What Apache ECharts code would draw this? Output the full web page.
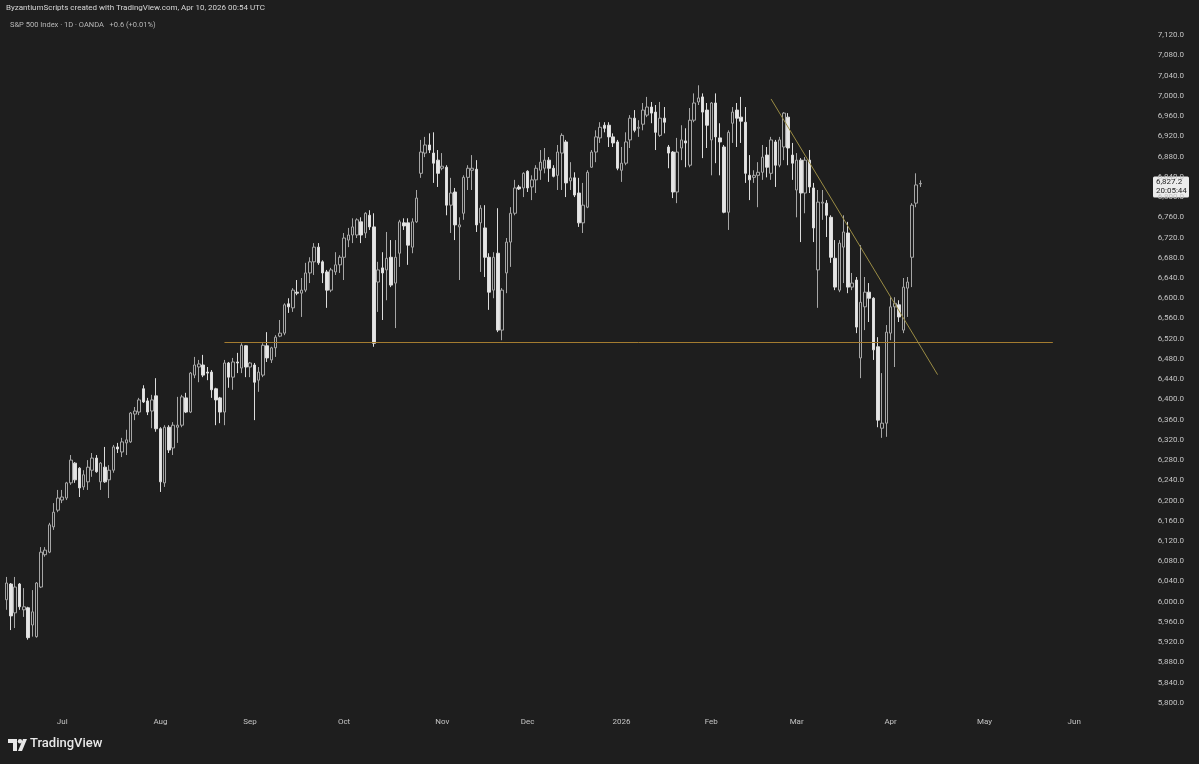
<!DOCTYPE html>
<html><head><meta charset="utf-8">
<script src="https://cdn.jsdelivr.net/npm/echarts@6/dist/echarts.min.js"></script>
<style>html,body{margin:0;padding:0;background:#1e1e1e;overflow:hidden}#c{width:1199px;height:764px}</style>
</head><body><div id="c"></div>
<script>
// ---- data (daily candles, S&P 500 CFD) ----
const opens = [
6004,6035,5978,6035,5984,5988,5954,5931,6029,6093,
6098,6148,6181,6201,6205,6235,6274,6264,6227,6237,
6260,6284,6237,6266,6241,6260,6306,6296,6314,6316,
6371,6375,6421,6397,6377,6407,6342,6235,6345,6304,
6345,6349,6403,6375,6448,6464,6468,6454,6454,6421,
6403,6375,6472,6444,6474,6462,6506,6464,6468,6438,
6448,6506,6478,6502,6525,6531,6589,6581,6612,6610,
6616,6650,6672,6701,6672,6652,6616,6652,6666,6681,
6715,6725,6725,6751,6729,6764,6741,6632,6660,6656,
6681,6630,6689,6749,6749,6701,6751,6847,6887,6903,
6887,6873,6857,6859,6784,6810,6741,6768,6839,6853,
6855,6749,6739,6681,6616,6689,6537,6650,6711,6768,
6820,6818,6851,6820,6834,6853,6857,6873,6857,6843,
6887,6909,6832,6838,6808,6749,6780,6859,6889,6917,
6942,6942,6919,6909,6853,6867,6913,6956,6936,6944,
6962,6978,6968,6922,6956,6899,6889,6810,6897,6911,
6863,6952,6988,6998,6972,6913,6986,6917,6899,6770,
6946,6972,6958,6948,6843,6839,6843,6849,6883,6847,
6909,6863,6899,6958,6883,6814,6873,6808,6873,6818,
6656,6788,6788,6760,6679,6616,6701,6729,6622,6636,
6482,6583,6612,6600,6504,6343,6353,6531,6583,6587,
6537,6620,6681,6788,6826];
const closes = [
6037,5972,6029,5990,5990,5929,5980,6037,6098,6102,
6152,6177,6205,6207,6235,6280,6241,6225,6251,6266,
6284,6257,6274,6237,6260,6306,6302,6316,6320,6373,
6377,6399,6395,6375,6399,6342,6237,6345,6300,6349,
6349,6405,6375,6452,6468,6470,6448,6452,6419,6399,
6375,6472,6444,6474,6472,6507,6464,6472,6434,6454,
6507,6482,6502,6523,6531,6587,6583,6616,6610,6616,
6650,6672,6701,6670,6650,6616,6656,6666,6681,6719,
6725,6741,6755,6725,6768,6741,6511,6656,6650,6679,
6626,6681,6751,6743,6705,6751,6798,6889,6903,6893,
6867,6847,6861,6784,6808,6745,6745,6839,6857,6857,
6745,6778,6681,6612,6681,6537,6616,6711,6768,6818,
6816,6847,6818,6834,6857,6869,6873,6857,6841,6889,
6922,6828,6838,6804,6749,6784,6849,6889,6919,6938,
6936,6919,6907,6857,6867,6909,6956,6932,6938,6972,
6978,6966,6928,6956,6948,6887,6810,6889,6913,6907,
6952,6986,6996,6968,6942,6986,6919,6909,6770,6928,
6968,6956,6950,6847,6834,6843,6849,6879,6859,6913,
6863,6913,6966,6897,6867,6873,6808,6873,6820,6739,
6790,6790,6764,6681,6622,6709,6731,6622,6630,6543,
6592,6612,6600,6498,6359,6353,6533,6583,6590,6563,
6622,6632,6784,6824,6827];
const lows = [
5984,5944,5948,5984,5970,5925,5931,5929,6027,6089,
6096,6142,6177,6195,6201,6231,6235,6207,6221,6221,
6247,6255,6221,6235,6205,6255,6294,6286,6290,6314,
6359,6369,6393,6369,6343,6336,6217,6227,6294,6290,
6314,6345,6373,6373,6442,6434,6444,6438,6403,6349,
6353,6349,6423,6419,6452,6452,6444,6444,6359,6415,
6444,6474,6472,6484,6523,6527,6571,6573,6606,6563,
6612,6630,6646,6666,6630,6581,6612,6646,6650,6636,
6701,6709,6719,6709,6719,6735,6504,6573,6557,6596,
6622,6541,6662,6735,6666,6689,6749,6838,6879,6887,
6828,6820,6853,6764,6729,6715,6636,6755,6814,6814,
6731,6652,6642,6577,6600,6533,6517,6610,6662,6764,
6814,6800,6810,6794,6808,6834,6847,6830,6839,6814,
6814,6800,6814,6800,6741,6729,6778,6858,6869,6907,
6928,6899,6899,6853,6830,6863,6897,6928,6919,6932,
6958,6946,6893,6919,6926,6857,6798,6788,6873,6859,
6859,6948,6982,6877,6897,6843,6867,6843,6768,6735,
6907,6899,6907,6828,6794,6828,6780,6834,6839,6834,
6820,6859,6873,6863,6834,6760,6711,6768,6808,6711,
6581,6755,6721,6670,6616,6612,6630,6610,6616,6531,
6442,6537,6553,6478,6345,6324,6326,6517,6464,6553,
6531,6563,6622,6780,6820];
const highs = [
6049,6037,6049,6037,6027,5990,6023,6039,6108,6108,
6156,6195,6221,6221,6237,6290,6276,6266,6260,6280,
6294,6290,6276,6306,6270,6310,6314,6324,6340,6375,
6385,6403,6428,6403,6409,6442,6345,6349,6349,6355,
6405,6409,6413,6454,6484,6478,6488,6464,6458,6423,
6405,6478,6474,6482,6492,6511,6507,6474,6472,6464,
6511,6533,6504,6527,6557,6590,6600,6620,6636,6640,
6670,6681,6709,6709,6675,6656,6660,6691,6685,6729,
6739,6758,6758,6760,6770,6774,6768,6672,6691,6731,
6715,6715,6755,6758,6758,6758,6814,6913,6919,6926,
6928,6893,6887,6863,6838,6818,6760,6843,6863,6883,
6873,6784,6784,6689,6691,6778,6620,6719,6780,6834,
6824,6849,6853,6843,6863,6893,6897,6879,6863,6903,
6926,6913,6869,6849,6838,6828,6853,6893,6932,6948,
6948,6948,6926,6913,6899,6928,6962,6972,6952,6986,
6998,6988,6982,6988,6978,6903,6891,6917,6942,6936,
6976,7005,7021,7005,6986,6988,7005,6946,6903,6932,
6978,6986,6998,6978,6883,6853,6869,6903,6899,6919,
6913,6919,6968,6966,6907,6887,6877,6879,6893,6828,
6814,6814,6794,6764,6715,6715,6764,6751,6650,6642,
6705,6642,6630,6602,6523,6452,6547,6602,6602,6596,
6640,6642,6788,6847,6833];

// time scale: one slot per trading day, plus empty future slots
const totalBars = 264;
const monthLabels = ['Jul','Aug','Sep','Oct','Nov','Dec','2026','Feb','Mar','Apr','May','Jun'];
const monthBars   = [13, 36, 57, 79, 102, 122, 144, 165, 185, 207, 229, 250];
// price scale tick labels
const priceTicks = [5800,5840,5880,5920,5960,6000,6040,6080,6120,6160,6200,6240,6280,6320,6360,6400,6440,6480,
  6520,6560,6600,6640,6680,6720,6760,6800,6840,6880,6920,6960,7000,7040,7080,7120];
// drawings
const supportLevel = 6513, supportFrom = 51, supportTo = 245;
const trendFromBar = 179, trendFromPrice = 6994, trendToBar = 218, trendToPrice = 6449;
const headerText = 'ByzantiumScripts created with TradingView.com, Apr 10, 2026 00:54 UTC';
const legendText = 'S&P 500 Index · 1D · OANDA';
const changeText = '+0.6 (+0.01%)';
const lastPriceText = '6,827.2', countdownText = '20:05:44';

const categories = Array.from({length: totalBars}, (_, i) => String(i));
const candles = opens.map((o, i) => [o, closes[i], lows[i], highs[i]]);
const labelAt = {}; monthBars.forEach((b, i) => labelAt[b] = monthLabels[i]);

const BG = '#1e1e1e';
const chart = echarts.init(document.getElementById('c'), null, {renderer: 'canvas'});
const fmt = v => v.toLocaleString('en-US', {minimumFractionDigits: 1, maximumFractionDigits: 1});

chart.setOption({
  animation: false,
  backgroundColor: BG,
  textStyle: {fontFamily: 'Roboto, "Noto Sans", sans-serif'},
  grid: {left: 4.57, right: 67.15, top: 17, bottom: 52, containLabel: false},
  xAxis: {
    type: 'category', data: categories, boundaryGap: true,
    axisLine: {show: false}, axisTick: {show: false}, splitLine: {show: false},
    axisLabel: {
      interval: (idx) => labelAt[idx] !== undefined,
      formatter: (v, idx) => labelAt[idx] || '',
      color: '#c4c4c4', fontSize: 8, margin: 6
    }
  },
  yAxis: {
    type: 'value', position: 'right', min: 5782, max: 7156, scale: true,
    axisLine: {show: false}, axisTick: {show: false}, splitLine: {show: false},
    axisLabel: {customValues: priceTicks, formatter: v => fmt(v), color: '#c4c4c4', fontSize: 8, margin: 26, align: 'left'}
  },
  series: [{
    type: 'candlestick', data: candles, barWidth: 3,
    itemStyle: {color: BG, color0: '#e6e6e6', borderColor: '#a6a6a6', borderColor0: '#dcdcdc', borderWidth: 1},
    markLine: {
      silent: true, symbol: ['none', 'none'], animation: false,
      label: {show: false},
      data: [
        [{coord: [supportFrom, supportLevel], lineStyle: {color: '#a47c30', width: 1, type: 'solid'}},
         {coord: [supportTo, supportLevel]}],
        [{coord: [trendFromBar, trendFromPrice], lineStyle: {color: '#9a8c44', width: 1, type: 'solid'}},
         {coord: [trendToBar, trendToPrice]}]
      ]
    }
  }]
});

// overlay texts, logo and the last-price tag on the price scale
const lastY = chart.convertToPixel({yAxisIndex: 0}, closes[closes.length - 1]);
chart.setOption({graphic: [
  {id: 'hdr', type: 'text', left: 6, top: 4, style: {text: headerText, fill: '#d6d6d6', font: '8px Roboto, sans-serif'}},
  {id: 'lgd', type: 'text', left: 10, top: 21, style: {text: legendText + '   ' + changeText, fill: '#b8b8b8', font: '7.5px Roboto, sans-serif'}},
  {id: 'logo', type: 'group', left: 8, top: 739, children: [
    {type: 'polygon', shape: {points: [[0,0],[9,0],[9,12],[5,12],[5,4],[0,4]]}, style: {fill: '#e8e8e8'}},
    {type: 'circle', shape: {cx: 12, cy: 2.2, r: 2.2}, style: {fill: '#e8e8e8'}},
    {type: 'polygon', shape: {points: [[15,0],[19,0],[14,12],[10,12]]}, style: {fill: '#e8e8e8'}}
  ]},
  {id: 'logoText', type: 'text', left: 30, top: 737, style: {text: 'TradingView', fill: '#e8e8e8', font: '500 13px Roboto, sans-serif'}},
  {id: 'tagBox', type: 'rect', left: 1153, top: lastY - 7, shape: {width: 36, height: 21, r: 1.5}, style: {fill: '#ececec'}},
  {id: 'tagPrice', type: 'text', left: 1156, top: lastY - 5, style: {text: lastPriceText, fill: '#1e1e1e', font: '8px Roboto, sans-serif'}},
  {id: 'tagTime', type: 'text', left: 1156, top: lastY + 4, style: {text: countdownText, fill: '#1e1e1e', font: '8px Roboto, sans-serif'}}
]});
</script></body></html>
